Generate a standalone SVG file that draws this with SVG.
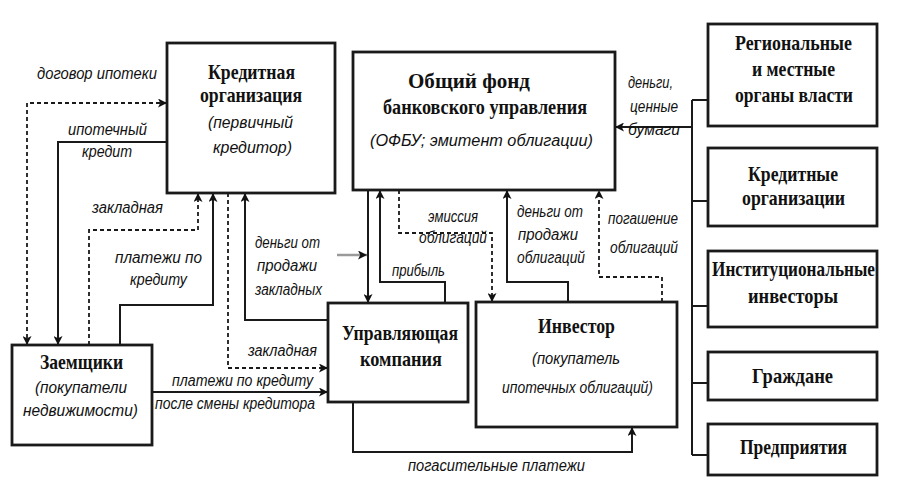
<svg xmlns="http://www.w3.org/2000/svg" width="919" height="494" viewBox="0 0 919 494">
<style>
.box{fill:#fff;stroke:#1a1a1a;stroke-width:2.8}
.t{font-family:"Liberation Serif","DejaVu Serif",serif;font-weight:bold;font-size:22px;fill:#111}
.i{font-family:"Liberation Sans","DejaVu Sans",sans-serif;font-style:italic;font-size:16px;fill:#111}
.c{fill:none;stroke:#1a1a1a;stroke-width:2}
.d{fill:none;stroke:#1a1a1a;stroke-width:1.8;stroke-dasharray:4 3}
.a{marker-end:url(#ah)}
.ab{marker-start:url(#ah);marker-end:url(#ah)}
</style>
<defs>
<marker id="ah" viewBox="0 0 10 10" refX="10" refY="5" markerWidth="10" markerHeight="9" markerUnits="userSpaceOnUse" orient="auto-start-reverse">
<path d="M0,0 L10,5 L0,10 L2.5,5 z" fill="#111" stroke="none"/>
</marker>
</defs>
<rect width="919" height="494" fill="#fff"/>

<g id="connectors">
<path class="d ab" d="M27,345 V103 H167"/>
<path class="c a" d="M167,142 H58 V345"/>
<path class="d a" d="M89,345 V230 H198 V193"/>
<path class="c a" d="M120,345 V305 H213 V193"/>
<path class="d a" d="M228,193 V368 H328"/>
<path class="c a" d="M328,320 H245 V193"/>
<path class="c a" d="M152,392 H328"/>
<path class="a" d="M337,255 H367" fill="none" stroke="#9a9a9a" stroke-width="2.5"/>
<path class="c a" d="M368,190 V303"/>
<path class="c a" d="M445,303 V282 H380 V190"/>
<path class="d a" d="M399,190 V233 H492 V302"/>
<path class="c a" d="M568,302 V282 H507 V190"/>
<path class="d a" d="M662,302 V277 H599 V190"/>
<path class="c a" d="M353,402 V452 H632 V427"/>
<path class="c" d="M692,100 V455 M692,100 H708 M692,201 H708 M692,306 H708 M692,383 H708 M692,455 H708"/>
<path class="c a" d="M692,127 H615"/>
</g>

<g id="labels">
<text class="i" x="37" y="79" textLength="120" lengthAdjust="spacingAndGlyphs">договор ипотеки</text>
<text class="i" x="68" y="135" textLength="79" lengthAdjust="spacingAndGlyphs">ипотечный</text>
<text class="i" x="82" y="157" textLength="50" lengthAdjust="spacingAndGlyphs">кредит</text>
<text class="i" x="92" y="213" textLength="71" lengthAdjust="spacingAndGlyphs">закладная</text>
<text class="i" x="115" y="263" textLength="87" lengthAdjust="spacingAndGlyphs">платежи по</text>
<text class="i" x="130" y="285" textLength="57" lengthAdjust="spacingAndGlyphs">кредиту</text>
<text class="i" x="255" y="248" textLength="65" lengthAdjust="spacingAndGlyphs">деньги от</text>
<text class="i" x="257" y="271" textLength="60" lengthAdjust="spacingAndGlyphs">продажи</text>
<text class="i" x="255" y="295" textLength="67" lengthAdjust="spacingAndGlyphs">закладных</text>
<text class="i" x="248" y="356" textLength="69" lengthAdjust="spacingAndGlyphs">закладная</text>
<text class="i" x="172" y="386" textLength="141" lengthAdjust="spacingAndGlyphs">платежи по кредиту</text>
<text class="i" x="155" y="409" textLength="160" lengthAdjust="spacingAndGlyphs">после смены кредитора</text>
<text class="i" x="428" y="222" textLength="50" lengthAdjust="spacingAndGlyphs">эмиссия</text>
<text class="i" x="419" y="243" textLength="68" lengthAdjust="spacingAndGlyphs">облигаций</text>
<text class="i" x="392" y="276" textLength="53" lengthAdjust="spacingAndGlyphs">прибыль</text>
<text class="i" x="517" y="217" textLength="66" lengthAdjust="spacingAndGlyphs">деньги от</text>
<text class="i" x="518" y="240" textLength="60" lengthAdjust="spacingAndGlyphs">продажи</text>
<text class="i" x="517" y="263" textLength="68" lengthAdjust="spacingAndGlyphs">облигаций</text>
<text class="i" x="608" y="224" textLength="70" lengthAdjust="spacingAndGlyphs">погашение</text>
<text class="i" x="610" y="253" textLength="68" lengthAdjust="spacingAndGlyphs">облигаций</text>
<text class="i" x="628" y="88" textLength="45" lengthAdjust="spacingAndGlyphs">деньги,</text>
<text class="i" x="630" y="112" textLength="48" lengthAdjust="spacingAndGlyphs">ценные</text>
<text class="i" x="628" y="135" textLength="52" lengthAdjust="spacingAndGlyphs">бумаги</text>
<text class="i" x="408" y="471" textLength="177" lengthAdjust="spacingAndGlyphs">погасительные платежи</text>
</g>

<g id="credit-org">
<rect class="box" x="167" y="43" width="168" height="150"/>
<text class="t" x="208" y="79" textLength="87" lengthAdjust="spacingAndGlyphs">Кредитная</text>
<text class="t" x="200" y="102" textLength="102" lengthAdjust="spacingAndGlyphs">организация</text>
<text class="i" x="208" y="128" textLength="85" lengthAdjust="spacingAndGlyphs">(первичный</text>
<text class="i" x="213" y="153" textLength="79" lengthAdjust="spacingAndGlyphs">кредитор)</text>
</g>

<g id="ofbu">
<rect class="box" x="353" y="52" width="262" height="138"/>
<text class="t" x="408" y="88" textLength="122" lengthAdjust="spacingAndGlyphs">Общий фонд</text>
<text class="t" x="383" y="114" textLength="204" lengthAdjust="spacingAndGlyphs">банковского управления</text>
<text class="i" x="370" y="146" textLength="223" lengthAdjust="spacingAndGlyphs">(ОФБУ;  эмитент облигации)</text>
</g>

<g id="regional">
<rect class="box" x="708" y="24" width="169" height="102"/>
<text class="t" x="735" y="50" textLength="117" lengthAdjust="spacingAndGlyphs">Региональные</text>
<text class="t" x="752" y="76" textLength="83" lengthAdjust="spacingAndGlyphs">и местные</text>
<text class="t" x="735" y="102" textLength="118" lengthAdjust="spacingAndGlyphs">органы власти</text>
</g>

<g id="credit-orgs">
<rect class="box" x="708" y="148" width="169" height="78"/>
<text class="t" x="748" y="181" textLength="90" lengthAdjust="spacingAndGlyphs">Кредитные</text>
<text class="t" x="742" y="205" textLength="103" lengthAdjust="spacingAndGlyphs">организации</text>
</g>

<g id="institutional">
<rect class="box" x="708" y="251" width="169" height="76"/>
<text class="t" x="712" y="276" textLength="163" lengthAdjust="spacingAndGlyphs">Институциональные</text>
<text class="t" x="748" y="303" textLength="90" lengthAdjust="spacingAndGlyphs">инвесторы</text>
</g>

<g id="citizens">
<rect class="box" x="708" y="352" width="169" height="48"/>
<text class="t" x="752" y="383" textLength="81" lengthAdjust="spacingAndGlyphs">Граждане</text>
</g>

<g id="enterprises">
<rect class="box" x="708" y="424" width="169" height="51"/>
<text class="t" x="740" y="454" textLength="107" lengthAdjust="spacingAndGlyphs">Предприятия</text>
</g>

<g id="borrowers">
<rect class="box" x="12" y="345" width="140" height="100"/>
<text class="t" x="40" y="369" textLength="83" lengthAdjust="spacingAndGlyphs">Заемщики</text>
<text class="i" x="35" y="393" textLength="92" lengthAdjust="spacingAndGlyphs">(покупатели</text>
<text class="i" x="23" y="416" textLength="115" lengthAdjust="spacingAndGlyphs">недвижимости)</text>
</g>

<g id="management-company">
<rect class="box" x="328" y="303" width="140" height="99"/>
<text class="t" x="342" y="340" textLength="116" lengthAdjust="spacingAndGlyphs">Управляющая</text>
<text class="t" x="360" y="366" textLength="82" lengthAdjust="spacingAndGlyphs">компания</text>
</g>

<g id="investor">
<rect class="box" x="476" y="302" width="201" height="125"/>
<text class="t" x="538" y="333" textLength="77" lengthAdjust="spacingAndGlyphs">Инвестор</text>
<text class="i" x="532" y="364" textLength="88" lengthAdjust="spacingAndGlyphs">(покупатель</text>
<text class="i" x="502" y="393" textLength="151" lengthAdjust="spacingAndGlyphs">ипотечных облигаций)</text>
</g>
</svg>
